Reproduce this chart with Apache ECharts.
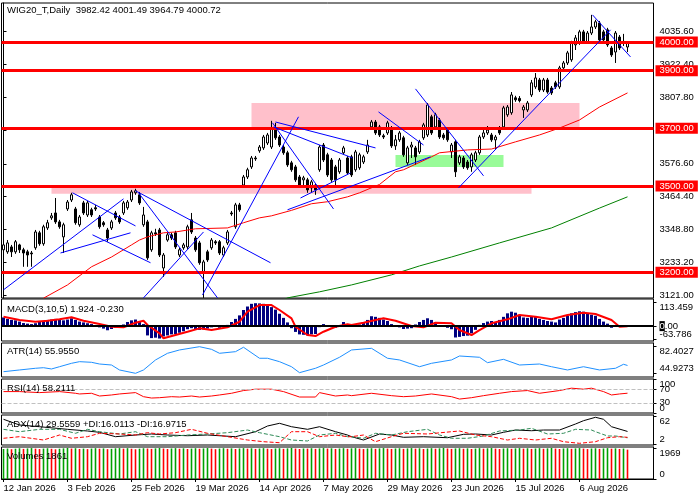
<!DOCTYPE html>
<html>
<head>
<meta charset="utf-8">
<title>WIG20_T Daily</title>
<script src="https://cdn.jsdelivr.net/npm/echarts@6/dist/echarts.min.js"></script>
<style>
html,body{margin:0;padding:0;background:#fff}
#chart{width:700px;height:500px}
</style>
</head>
<body>
<div id="chart"></div>
<script>
// ---- data ----
var tickLabels = ['12 Jan 2026','3 Feb 2026','25 Feb 2026','19 Mar 2026','14 Apr 2026','7 May 2026','29 May 2026','23 Jun 2026','15 Jul 2026','6 Aug 2026'];
var tickEvery = 16;
var slots = 163; // 157 bars + empty space on the right

var opens = [3278,3271,3288,3271,3295,3278,3271,3267,3285,3337,
3299,3354,3389,3406,3375,3323,3420,3451,3420,3365,
3441,3399,3417,3424,3392,3372,3347,3354,3406,3392,
3406,3424,3451,3476,3469,3365,3375,3278,3337,3347,
3215,3312,3330,3337,3260,3285,3288,3382,3319,3302,
3198,3271,3285,3306,3306,3260,3302,3406,3358,3434,
3503,3531,3566,3597,3622,3632,3649,3635,3694,3670,
3635,3615,3580,3566,3531,3521,3521,3493,3503,3556,
3642,3608,3590,3566,3549,3615,3597,3601,3556,3563,
3583,3618,3705,3722,3705,3674,3684,3701,3639,3660,
3667,3580,3635,3632,3618,3667,3677,3740,3705,3729,
3677,3694,3618,3653,3580,3597,3583,3566,3590,3615,
3670,3684,3677,3660,3701,3705,3747,3754,3806,3804,
3764,3764,3816,3844,3868,3833,3868,3840,3858,3844,
3910,3927,3938,3990,3997,4035,4000,4031,4052,4066,
4035,4042,3979,3965,4017,4000,3982.42];
var highs = [3302,3312,3295,3312,3299,3285,3278,3274,3347,3344,
3365,3382,3406,3458,3382,3372,3451,3476,3427,3399,
3448,3448,3424,3434,3399,3378,3354,3382,3413,3399,
3448,3451,3486,3490,3479,3427,3382,3344,3351,3354,
3267,3337,3337,3344,3285,3302,3365,3406,3326,3309,
3243,3278,3319,3312,3312,3292,3347,3413,3441,3441,
3538,3563,3604,3604,3642,3677,3684,3726,3719,3677,
3642,3622,3587,3573,3538,3535,3528,3521,3510,3642,
3649,3615,3597,3573,3597,3639,3604,3608,3625,3615,
3608,3660,3729,3729,3712,3681,3726,3708,3677,3691,
3674,3639,3653,3639,3660,3719,3788,3747,3754,3736,
3684,3701,3649,3660,3608,3604,3590,3615,3622,3677,
3701,3708,3684,3677,3708,3778,3781,3826,3813,3812,
3781,3795,3868,3892,3875,3875,3875,3847,3865,3917,
3934,3969,4004,4024,4042,4042,4038,4094,4077,4073,
4042,4049,3986,4038,4024,4028,4001.49];
var lows = [3271,3264,3253,3264,3267,3219,3219,3219,3278,3292,
3292,3347,3382,3368,3351,3267,3413,3444,3365,3358,
3399,3392,3392,3413,3351,3358,3306,3347,3382,3368,
3399,3417,3444,3469,3434,3358,3243,3271,3326,3253,
3184,3306,3312,3281,3253,3278,3281,3333,3271,3226,
3111,3236,3278,3295,3260,3253,3295,3396,3351,3410,
3497,3524,3559,3587,3615,3625,3642,3628,3660,3635,
3608,3566,3549,3514,3497,3503,3476,3479,3469,3549,
3583,3531,3514,3503,3542,3608,3538,3531,3549,3556,
3576,3611,3698,3677,3670,3663,3677,3632,3625,3653,
3601,3573,3597,3573,3611,3660,3670,3677,3698,3663,
3660,3653,3597,3531,3573,3559,3556,3549,3583,3608,
3663,3677,3653,3625,3677,3698,3740,3747,3792,3790,
3736,3757,3809,3837,3826,3826,3820,3816,3837,3837,
3903,3920,3931,3972,3990,3993,3993,4024,4045,4000,
4000,3983,3948,3927,3972,3986,3964.79];
var closes = [3295,3302,3271,3306,3278,3267,3260,3264,3340,3299,
3358,3372,3396,3375,3358,3365,3444,3469,3372,3392,
3406,3441,3399,3420,3358,3365,3319,3375,3389,3375,
3441,3444,3479,3483,3441,3399,3250,3337,3333,3260,
3260,3330,3319,3288,3278,3295,3358,3340,3278,3233,
3236,3243,3312,3302,3267,3285,3340,3403,3434,3417,
3531,3556,3597,3594,3635,3670,3677,3701,3667,3642,
3615,3573,3556,3521,3503,3528,3486,3514,3486,3635,
3590,3538,3521,3521,3590,3632,3545,3538,3618,3608,
3601,3642,3722,3684,3677,3670,3719,3639,3660,3684,
3608,3632,3642,3601,3653,3712,3781,3684,3747,3670,
3667,3660,3642,3549,3601,3566,3563,3608,3615,3670,
3684,3694,3660,3670,3684,3771,3774,3816,3799,3796,
3774,3788,3858,3875,3833,3868,3826,3823,3844,3910,
3927,3962,3997,4014,4035,4000,4031,4052,4070,4007,
4007,3990,3955,4031,3979,3997,4000.72];

// moving averages, sampled [bar, price]
var maRed = [[10,3110],[16,3156],[22,3219],[27,3253],[32,3295],[34,3312],[36,3323],[40,3337],[43,3340],[48,3351],[56,3354],[60,3372],[64,3389],[67,3396],[72,3415],[77,3438],[81,3445],[86,3462],[89,3476],[94,3505],[98,3549],[100,3556],[107,3601],[109,3615],[116,3625],[122,3628],[128,3653],[134,3677],[139,3701],[144,3729],[149,3774],[156,3823]];
var maGreen = [[70,3104],[71,3111],[79,3132],[87,3156],[97,3191],[104,3222],[112,3253],[124,3302],[137,3354],[149,3423],[156,3462]];

var levels = [4000, 3900, 3700, 3500, 3200];
// [fromBar, toBar, lowPrice, highPrice, colour]
var zones = [[62,144,3700,3788,'#ffc0cb'],[12,132,3473,3500,'#ffc0cb'],[98,125,3566,3607,'#98fb98']];
var trendLines = [
  [[0,3139],[30,3455]], [[17.25,3476],[33,3361]], [[14.25,3267],[31.75,3337]], [[22.25,3330],[36.75,3233]],
  [[33,3483],[66.75,3233]], [[33.75,3476],[53.5,3111]], [[35,3111],[50,3340]], [[49.75,3121],[73.75,3740]],
  [[67.25,3719],[82.5,3420]], [[68,3722],[93,3632]], [[67.5,3705],[87.25,3597]], [[71,3417],[106.75,3601]],
  [[74.25,3458],[86.75,3545]], [[93.75,3757],[105,3642]], [[103,3837],[120,3535]], [[113.75,3493],[151.75,4042]],
  [[147.25,4094],[156.75,3948]]
];
var priceTicks = [3121.0, 3233.2, 3348.8, 3464.4, 3576.6, 3692.2, 3807.8, 3922.4, 4035.6];

var macdHist = [42,35,30,28,22,15,12,10,14,20,
25,30,32,35,30,28,32,38,30,22,
18,14,10,4,-6,-12,-20,-14,-8,-3,
8,20,28,32,24,10,-45,-58,-56,-60,
-50,-45,-40,-38,-32,-25,-15,-10,-14,-18,
-16,-12,-6,-2,-8,-4,6,20,35,52,
78,95,108,111,110,108,100,92,80,60,
40,18,-10,-28,-40,-42,-45,-40,-38,-5,
10,3,-5,-8,0,20,10,2,5,8,
20,30,48,45,40,32,25,10,5,-6,
-14,-12,-10,8,20,30,38,30,20,5,
-4,-8,-15,-55,-52,-48,-46,-35,-18,6,
15,22,25,20,30,45,62,70,65,55,
42,40,45,48,35,30,25,22,18,32,
40,50,62,68,72,70,62,55,50,35,
22,12,-8,2,-3,-2,1.924];
var macdSignal = [[0,45.5],[4,29.5],[8,21.3],[11,26.2],[14,32.9],[17,42.6],[20,26.2],[24,10.2],[27,-2.9],[30,-5.8],[33,16.5],[35,26.2],[36,5.3],[39,-34.9],[40,-59.1],[43,-43.1],[46,-27.1],[49,-10.7],[52,-18.9],[56,-5.8],[59,21.3],[61,69.7],[64,102.2],[67,102.2],[69,78],[72,37.8],[73,-2.9],[76,-43.1],[78,-47.9],[80,-27.1],[83,-2.9],[86,8.7],[87,5.3],[90,16.5],[95,37.8],[98,26.2],[102,0.5],[105,-5.8],[108,16.5],[112,13.6],[114,-18.9],[117,-43.1],[119,-18.9],[122,13.6],[126,32.9],[129,53.8],[133,45.5],[137,32.9],[141,53.8],[145,64.9],[148,58.6],[152,29.5],[154,-2.9],[156,-0.23]];
var atr = [[0,47.2],[4,49.6],[8,52],[10,52.8],[12,51],[14,54.2],[17,59],[19,61.3],[22,60.4],[24,58],[27,56.6],[29,49.6],[33,44.9],[35,49.6],[38,63.7],[41,73.1],[44,77.8],[49,82.4],[52,78.7],[54,73.1],[58,75.4],[60,81.6],[64,66.1],[66,66.1],[69,61.3],[72,54.2],[74,45.8],[78,52],[80,56.6],[84,67.5],[87,77.8],[92,80.1],[96,66.1],[99,63.7],[104,54.2],[107,59],[112,63.7],[114,69.3],[119,67.5],[121,59.9],[125,64.6],[129,56.6],[134,58],[137,54.2],[141,49.6],[145,54.2],[149,49.6],[153,52],[155,57.6],[156,55.955]];
var rsi = [[0,63],[4,63],[9,60],[14,63],[18,58],[19,56],[22,58],[24,50],[27,53],[29,56],[33,60],[35,48],[37,44],[39,45],[42,48],[44,47],[47,50],[49,47],[52,50],[54,53],[57,58],[60,66],[63,70],[67,70],[70,63],[74,47],[78,47],[79,60],[83,50],[86,53],[87,51],[92,58],[97,51],[100,48],[103,50],[107,56],[112,48],[114,41],[117,45],[120,51],[124,58],[127,63],[131,66],[134,58],[139,66],[142,73],[145,70],[147,73],[150,63],[152,53],[154,56],[156,58.21]];
var adx = [[0,55.6],[4,43.4],[9,39.7],[16,34.1],[21,30.5],[24,27.7],[28,18.3],[33,21.9],[37,24.1],[41,21.9],[46,20.4],[51,21.9],[58,18.3],[63,29],[66,41.2],[69,47],[72,39.7],[76,34.1],[79,39.7],[83,29],[86,21.9],[87,18.3],[90,11.2],[94,24.1],[97,21.9],[100,17],[105,18.3],[111,16.1],[115,23.4],[118,24.1],[122,21.9],[125,27.7],[128,32.6],[132,31.1],[135,32.6],[139,32.6],[143,45.5],[145,52.6],[148,59.9],[150,55.6],[152,39.7],[156,29.56]];
var diPlus = [[0,34.1],[4,29],[9,34.1],[14,34.1],[18,25.6],[21,34.1],[24,29],[29,24.1],[33,29],[36,18.3],[41,18.3],[46,21.9],[51,24.1],[56,26.9],[61,32.6],[64,26.9],[69,18.3],[72,11.2],[76,9.1],[79,21.9],[83,25.6],[86,18.3],[87,18.3],[90,14.9],[93,25.6],[97,21.9],[101,29],[106,34.1],[109,21.9],[112,14.9],[116,14.9],[120,19.8],[124,30.5],[129,32.6],[132,36.3],[136,24.1],[140,25.6],[143,34.1],[147,32.6],[148,29],[151,19.8],[153,19.8],[156,16.01]];
var diMinus = [[0,14.9],[4,18.3],[10,11.2],[14,21.9],[17,14.9],[21,18.3],[24,25.6],[29,24.1],[33,21.9],[36,26.9],[39,24.1],[43,26.9],[47,34.1],[51,25.6],[56,18.3],[61,11.2],[65,7.6],[69,5.4],[72,29],[76,29],[79,18.3],[83,21.9],[86,18.3],[87,18.3],[90,21.9],[93,7.6],[97,18.3],[100,25.6],[106,24.1],[112,29],[114,30.5],[118,21.9],[122,18.3],[126,11.2],[129,14.9],[133,11.2],[137,14.9],[140,7.6],[144,4.1],[148,7.6],[151,16.1],[154,18.3],[156,16.97]];
var volumes = [1905,1931,1890,1922,1950,1912,1938,1961,1925,1899,
1930,1948,1916,1884,1920,1944,1969,1930,1952,1907,
1928,1895,1930,1956,1921,1940,1893,1915,1947,1960,
1926,1955,1918,1886,1923,1951,1930,1912,1944,1966,
1932,1901,1937,1958,1920,1946,1904,1929,1953,1919,
1940,1962,1927,1892,1931,1955,1918,1943,1905,1936,
1959,1924,1948,1910,1933,1957,1922,1899,1935,1950,
1915,1942,1966,1930,1904,1938,1925,1951,1913,1940,
1962,1928,1946,1908,1932,1955,1917,1944,1960,1926,
1900,1934,1952,1916,1941,1963,1929,1907,1936,1949,
1912,1938,1959,1925,1947,1903,1931,1954,1921,1944,
1966,1933,1910,1939,1952,1918,1942,1905,1930,1957,
1923,1946,1963,1928,1901,1935,1950,1914,1941,1960,
1926,1948,1909,1934,1956,1919,1943,1966,1930,1904,
1937,1952,1915,1940,1961,1927,1899,1933,1949,1912,
1938,1958,1923,1945,1906,1931,1861];

// ---- chart ----
var FONT = 'Liberation Sans';
var FS = 9.5;
var cats = [];
for (var k = 0; k < slots; k++) cats.push(String(k));

var candles = opens.map(function (o, i) { return [o, closes[i], lows[i], highs[i]]; });
var volUp = [], volDown = [];
volumes.forEach(function (v, i) {
    var up = i === 0 || v > volumes[i - 1];
    volUp.push(up ? v : '-');
    volDown.push(up ? '-' : v);
});

var panes = [
    { top: 3, height: 295 },
    { top: 299, height: 42 },
    { top: 343, height: 34 },
    { top: 379, height: 34 },
    { top: 415, height: 30 },
    { top: 447, height: 32 }
];
// 4 px per bar slot, bar centres on pixel centres
var grids = panes.map(function (p) {
    return { left: 1.5, width: slots * 4, top: p.top, height: p.height, show: true, borderColor: '#000', borderWidth: 1, backgroundColor: '#fff' };
});

function isTick(idx) { return idx % tickEvery === 0 && idx / tickEvery < tickLabels.length; }

var xAxes = panes.map(function (p, g) {
    var bottom = g === panes.length - 1;
    return {
        type: 'category', gridIndex: g, data: cats, boundaryGap: true,
        axisLine: { show: bottom, lineStyle: { color: '#000' } },
        axisTick: { show: bottom, alignWithLabel: true, interval: function (i) { return isTick(i); }, length: 3, lineStyle: { color: '#000' } },
        axisLabel: {
            show: bottom, interval: function (i) { return isTick(i); }, align: 'left', margin: 4,
            color: '#000', fontFamily: FONT, fontSize: FS,
            formatter: function (v, i) { return tickLabels[i / tickEvery]; }
        },
        splitLine: { show: false }
    };
});
xAxes.push({ type: 'value', gridIndex: 0, min: -0.5, max: slots - 0.5, show: false });

function yAx(g, min, max, ticks, fmt, edges, line) {
    return {
        type: 'value', gridIndex: g, position: 'right', min: min, max: max, scale: true,
        axisLine: { show: line !== false, lineStyle: { color: '#000' } },
        axisTick: { show: true, length: 3, customValues: ticks, lineStyle: { color: '#000' } },
        axisLabel: {
            customValues: ticks, margin: 6, color: '#000', fontFamily: FONT, fontSize: FS,
            formatter: fmt, showMinLabel: true, showMaxLabel: true, hideOverlap: false,
            rich: { k: { backgroundColor: '#000', color: '#fff', fontFamily: FONT, fontSize: FS } },
            verticalAlignMinLabel: edges ? 'bottom' : 'middle',
            verticalAlignMaxLabel: edges ? 'top' : 'middle'
        },
        splitLine: { show: false }
    };
}
function plain(v) { return String(v); }
var yAxes = [
    yAx(0, 3110.6, 4135.3, priceTicks, function (v) { return v.toFixed(2); }, false),
    yAx(1, -72.0, 131.4, [-63.786, 113.459], plain, true),
    yAx(2, 39.7, 87.6, [44.9273, 82.4027], plain, true),
    yAx(3, 0, 100, [0, 100], plain, true),
    yAx(4, 0.5, 64.8, [2, 62], plain, true),
    yAx(5, 0, 2030, [0, 1969], plain, true),
    // middle labels that overlap the edge ones in the original
    yAx(1, -72.0, 131.4, [0], function () { return '{k|0}.00'; }, false, false),
    yAx(3, 0, 100, [30, 70], plain, false, false)
];

var txt = { fontSize: FS, fontWeight: 'normal', color: '#000', fontFamily: FONT };
var titles = [
    ['WIG20_T,Daily  3982.42 4001.49 3964.79 4000.72', 5],
    ['MACD(3,10,5) 1.924 -0.230', 304],
    ['ATR(14) 55.9550', 346],
    ['RSI(14) 58.2111', 383],
    ['ADX(14) 29.5559 +DI:16.0113 -DI:16.9715', 419],
    ['Volumes 1861', 451]
].map(function (t) { return { text: t[0], left: 7, top: t[1], padding: 0, textStyle: txt }; });

function sparseLine(x, y, data, color, width, dash, z) {
    return {
        type: 'line', xAxisIndex: x, yAxisIndex: y, data: data, showSymbol: false, silent: true,
        lineStyle: { color: color, width: width, type: dash || 'solid' }, z: z || 3
    };
}

var series = [
    { // zones
        type: 'line', xAxisIndex: 6, yAxisIndex: 0, data: [], z: 1, silent: true,
        markArea: {
            silent: true,
            data: zones.map(function (r) {
                return [{ coord: [r[0], r[2]], itemStyle: { color: r[4], opacity: 1 } }, { coord: [r[1], r[3]] }];
            })
        }
    },
    { // horizontal levels
        type: 'line', xAxisIndex: 6, yAxisIndex: 0, data: [], z: 2, silent: true,
        markLine: {
            silent: true, symbol: 'none',
            lineStyle: { color: '#ff0000', width: 3, type: 'solid' },
            label: {
                show: true, position: 'end', distance: 2,
                formatter: function (p) { return Number(p.value).toFixed(2); },
                backgroundColor: '#ff0000', color: '#fff', padding: [1, 4, 0, 4],
                fontFamily: FONT, fontSize: FS
            },
            data: levels.map(function (v) { return { yAxis: v }; })
        }
    },
    {
        type: 'candlestick', xAxisIndex: 0, yAxisIndex: 0, data: candles, barWidth: 3, z: 3,
        itemStyle: { color: '#fff', color0: '#000', borderColor: '#000', borderColor0: '#000', borderWidth: 1 }
    },
    sparseLine(6, 0, maRed, '#ff0000', 1, 'solid', 4),
    sparseLine(6, 0, maGreen, '#008000', 1, 'solid', 4),
    { // trend lines
        type: 'line', xAxisIndex: 6, yAxisIndex: 0, data: [], z: 5, silent: true,
        markLine: {
            silent: true, symbol: 'none', label: { show: false },
            lineStyle: { color: '#0000ff', width: 1, type: 'solid' },
            data: trendLines.map(function (t) { return [{ coord: t[0] }, { coord: t[1] }]; })
        }
    },
    {
        type: 'bar', xAxisIndex: 1, yAxisIndex: 1, data: macdHist, barWidth: 3, z: 2,
        itemStyle: { color: '#000080' },
        markLine: {
            silent: true, symbol: 'none', label: { show: false },
            lineStyle: { color: '#000', width: 2, type: 'solid' },
            data: [{ yAxis: 0 }]
        }
    },
    sparseLine(1, 1, macdSignal, '#ff0000', 2, 'solid', 4),
    sparseLine(2, 2, atr, '#1e90ff', 1),
    {
        type: 'line', xAxisIndex: 3, yAxisIndex: 3, data: rsi, showSymbol: false, silent: true, z: 3,
        lineStyle: { color: '#ff0000', width: 1 },
        markLine: {
            silent: true, symbol: 'none', label: { show: false },
            lineStyle: { color: '#c0c0c0', width: 1, type: 'dashed' },
            data: [{ yAxis: 30 }, { yAxis: 70 }]
        }
    },
    sparseLine(4, 4, adx, '#000', 1),
    sparseLine(4, 4, diPlus, '#2e8b57', 1, 'dashed'),
    sparseLine(4, 4, diMinus, '#ff0000', 1, 'dashed'),
    // volume: two overlaid series, green when volume rose, red when it fell
    { type: 'bar', xAxisIndex: 5, yAxisIndex: 5, data: volUp, barWidth: 1.6, barGap: '-100%', z: 3, itemStyle: { color: '#00a000' } },
    { type: 'bar', xAxisIndex: 5, yAxisIndex: 5, data: volDown, barWidth: 1.6, barGap: '-100%', z: 3, itemStyle: { color: '#ff0000' } }
];

var myChart = echarts.init(document.getElementById('chart'));
myChart.setOption({
    animation: false,
    backgroundColor: '#fff',
    title: titles,
    grid: grids,
    xAxis: xAxes,
    yAxis: yAxes,
    series: series
});
</script>
</body>
</html>
